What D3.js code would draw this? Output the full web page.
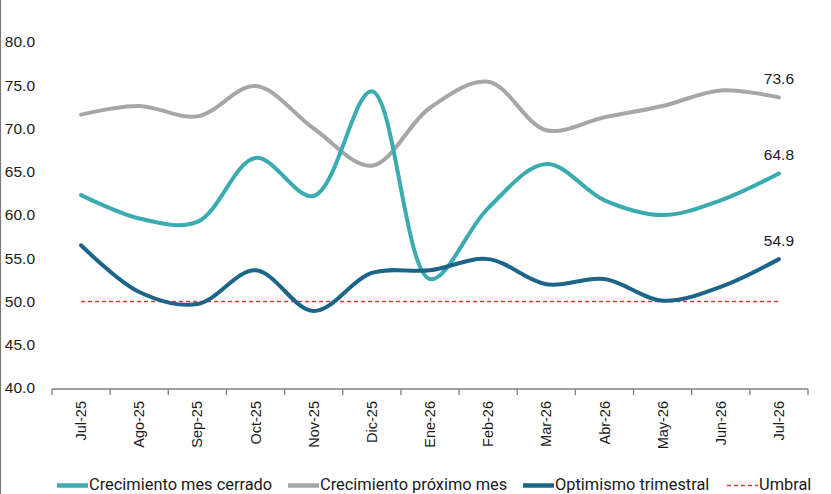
<!DOCTYPE html>
<html>
<head>
<meta charset="utf-8">
<script src="https://cdn.jsdelivr.net/npm/d3@7"></script>
<style>
  html, body { margin: 0; padding: 0; background: #fff; }
  svg { display: block; }
</style>
</head>
<body>
<script>
const categories = ["Jul-25","Ago-25","Sep-25","Oct-25","Nov-25","Dic-25","Ene-26","Feb-26","Mar-26","Abr-26","May-26","Jun-26","Jul-26"];
const crecimientoMesCerrado = [62.3, 59.6, 59.2, 66.6, 62.2, 74.3, 52.6, 60.8, 65.9, 61.7, 60.0, 61.7, 64.8];
const crecimientoProximoMes = [71.6, 72.6, 71.4, 74.9, 70.0, 65.7, 72.4, 75.4, 69.8, 71.3, 72.6, 74.4, 73.6];
const optimismoTrimestral = [56.5, 51.1, 49.7, 53.6, 48.9, 53.3, 53.6, 54.9, 52.0, 52.6, 50.1, 51.7, 54.9];
const umbral = [50,50,50,50,50,50,50,50,50,50,50,50,50];
const yTicks = [40,45,50,55,60,65,70,75,80];
const seriesNames = ["Crecimiento mes cerrado","Crecimiento próximo mes","Optimismo trimestral","Umbral"];

const W = 831, H = 494;
const svg = d3.select("body").append("svg").attr("width", W).attr("height", H);

const x = d3.scaleBand().domain(categories).range([52, 808]);
const y = d3.scaleLinear().domain([40, 80]).range([388, 42]);
const cx = c => x(c) + x.bandwidth() / 2;

// screenshot border artifact
svg.append("line").attr("x1", 0.5).attr("x2", 0.5).attr("y1", 0).attr("y2", H).attr("stroke", "#7a7a7a").attr("stroke-width", 1.2);

// Y axis labels
const yAxis = d3.axisLeft(y).tickValues(yTicks).tickFormat(d3.format(".1f")).tickSize(0).tickPadding(0);
const gy = svg.append("g").attr("transform", "translate(35,0)").call(yAxis);
gy.select(".domain").remove();
gy.selectAll("text").attr("font-family", "Liberation Sans, Arial, sans-serif").attr("font-size", 15.5).attr("fill", "#1a1a1a");

// X axis
const xAxis = d3.axisBottom(x).tickSize(0).tickPadding(0);
const gx = svg.append("g").attr("transform", "translate(0,389)").call(xAxis);
gx.select(".domain").attr("stroke", "#7f7f7f").attr("stroke-width", 1.3).attr("d", "M52,0H808");
gx.selectAll(".tick text")
  .attr("font-family", "Liberation Sans, Arial, sans-serif").attr("font-size", 14.5).attr("fill", "#1a1a1a")
  .attr("transform", "rotate(-90)").attr("text-anchor", "end").attr("x", -12).attr("y", 0).attr("dy", "0.35em");
const bounds = categories.map(c => x(c)).concat([x.range()[1]]);
svg.append("g").selectAll("line").data(bounds).join("line")
  .attr("x1", d => d).attr("x2", d => d).attr("y1", 389).attr("y2", 395)
  .attr("stroke", "#7f7f7f").attr("stroke-width", 1.3);

// Lines
const line = d3.line().x((d, i) => cx(categories[i])).y(d => y(d)).curve(d3.curveCatmullRom.alpha(0.5));
const straight = d3.line().x((d, i) => cx(categories[i])).y(d => y(d));

svg.append("path").datum(umbral).attr("d", straight).attr("fill", "none")
  .attr("stroke", "#e03535").attr("stroke-width", 1.4).attr("stroke-dasharray", "4,3");

const series = [
  {name: seriesNames[1], data: crecimientoProximoMes, color: "#a6a6a6"},
  {name: seriesNames[0], data: crecimientoMesCerrado, color: "#3aabb0"},
  {name: seriesNames[2], data: optimismoTrimestral, color: "#1d6489"}
];
series.forEach(s => {
  svg.append("path").datum(s.data).attr("d", line).attr("fill", "none")
    .attr("stroke", s.color).attr("stroke-width", 4).attr("stroke-linecap", "round").attr("stroke-linejoin", "round");
});

// End labels
const last = categories.length - 1;
[crecimientoProximoMes, crecimientoMesCerrado, optimismoTrimestral].forEach(arr => {
  svg.append("text").attr("x", cx(categories[last])).attr("y", y(arr[last]) - 13)
    .attr("text-anchor", "middle").attr("font-family", "Liberation Sans, Arial, sans-serif")
    .attr("font-size", 15.5).attr("fill", "#1a1a1a").text(arr[last].toFixed(1));
});

// Legend
const legend = [
  {name: seriesNames[0], color: "#3aabb0", x: 57, dash: null, w: 4.5},
  {name: seriesNames[1], color: "#a6a6a6", x: 288, dash: null, w: 4.5},
  {name: seriesNames[2], color: "#1d6489", x: 523, dash: null, w: 4.5},
  {name: seriesNames[3], color: "#e03535", x: 727, dash: "4,3", w: 1.4}
];
const lg = svg.append("g");
legend.forEach(l => {
  lg.append("line").attr("x1", l.x).attr("x2", l.x + 31).attr("y1", 485.5).attr("y2", 485.5)
    .attr("stroke", l.color).attr("stroke-width", l.w).attr("stroke-dasharray", l.dash);
  lg.append("text").attr("x", l.x + 32).attr("y", 490)
    .attr("font-family", "Roboto, sans-serif").attr("font-size", 16.4).attr("fill", "#1a1a1a").text(l.name);
});
</script>
</body>
</html>
